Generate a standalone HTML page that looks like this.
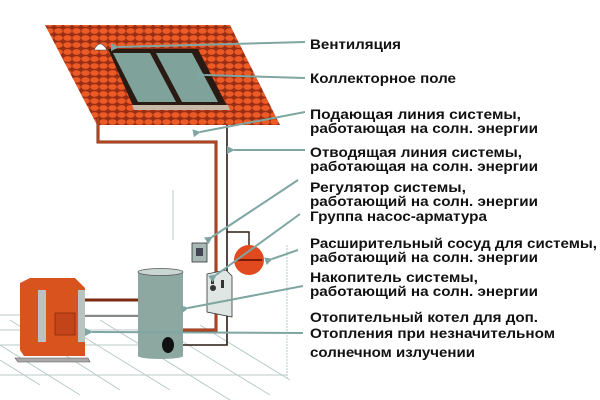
<!DOCTYPE html>
<html><head><meta charset="utf-8"><style>
html,body{margin:0;padding:0;background:#fff;width:600px;height:400px;overflow:hidden}
text{font-family:"Liberation Sans",sans-serif;font-weight:bold;font-size:13.5px;fill:#111}
</style></head><body>
<svg width="600" height="400" viewBox="0 0 600 400" xmlns="http://www.w3.org/2000/svg">
<defs>
<pattern id="tile" width="9" height="7" patternUnits="userSpaceOnUse">
<rect width="9" height="7" fill="#9a2e14"/>
<ellipse cx="4.5" cy="3" rx="4.2" ry="2.9" fill="#ec5a26"/>
</pattern>
<marker id="ah" markerWidth="8" markerHeight="8" refX="1" refY="4" orient="auto-start-reverse" markerUnits="userSpaceOnUse">
<path d="M8,0 L0,4 L8,8 Z" fill="#7fa6a2"/>
</marker>
</defs>
<g stroke="#b9cbc8" stroke-width="1" fill="none">
<line x1="0" y1="315" x2="140" y2="315"/>
<line x1="0" y1="330" x2="140" y2="330"/>
<line x1="0" y1="345" x2="140" y2="345"/>
<line x1="0" y1="375" x2="287" y2="375"/>
<line x1="287" y1="245" x2="287" y2="378" stroke-dasharray="2,1"/>
<line x1="10" y1="320" x2="120" y2="390"/>
<line x1="0" y1="345" x2="80" y2="395"/>
<line x1="40" y1="310" x2="170" y2="390"/>
<line x1="100" y1="320" x2="230" y2="400"/>
<line x1="180" y1="340" x2="270" y2="395"/>
<line x1="200" y1="325" x2="290" y2="380"/>
<line x1="0" y1="360" x2="40" y2="385"/>
<line x1="173" y1="190" x2="173" y2="240"/>
</g>
<polygon points="45,25 230,25 280,125 97,125" fill="url(#tile)"/>
<polygon points="108,49 198,49 228,108 134,108" fill="#2a1a14"/>
<polygon points="113,53 150,53 176,102 138,102" fill="#7fa39a"/>
<polygon points="156,53 192,53 218,102 182,102" fill="#7fa39a"/>
<polygon points="132,105 228,105 230,110 134,110" fill="#c9b7a8"/>
<path d="M94,50 Q100,38 107,50 Z" fill="#fff" stroke="#444" stroke-width="0.6"/>
<polyline points="98,118 98,142 216,142 216,330 183,330" fill="none" stroke="#7a2a10" stroke-width="3"/>
<polyline points="98,118 98,142 216,142 216,330 183,330" fill="none" stroke="#d4532a" stroke-width="1.2"/>
<polyline points="227,125 227,345 183,345" fill="none" stroke="#2a1a14" stroke-width="1.6"/>
<polyline points="227,232 249,232 249,246" fill="none" stroke="#2a1a14" stroke-width="1.4"/>
<line x1="85" y1="300" x2="138" y2="300" stroke="#7a2a10" stroke-width="3"/>
<line x1="85" y1="316" x2="138" y2="316" stroke="#888" stroke-width="2"/>
<circle cx="249" cy="260" r="15" fill="#e04a1e"/>
<line x1="236" y1="260" x2="262" y2="260" stroke="#7a1a08" stroke-width="2"/>
<rect x="192" y="243" width="15" height="19" fill="#a8b8b4" stroke="#333" stroke-width="0.8"/>
<rect x="196" y="248" width="7" height="8" fill="#445"/>
<polygon points="207,274 226,270 232,276 232,317 207,312" fill="#dfe6e3" stroke="#333" stroke-width="0.8"/>
<circle cx="213" cy="288" r="3" fill="#333"/>
<rect x="211" y="278" width="3" height="6" fill="#333"/>
<rect x="221" y="280" width="3" height="8" fill="#333"/>
<rect x="138" y="272" width="45" height="84" fill="#8da7a1"/>
<ellipse cx="160.5" cy="356" rx="22.5" ry="3" fill="#8da7a1"/>
<ellipse cx="160.5" cy="272" rx="22.5" ry="3.5" fill="#c9d6d3" stroke="#555" stroke-width="0.8"/>
<ellipse cx="168" cy="345" rx="6" ry="8" fill="#111"/>
<polygon points="15,358 88,358 90,362 18,362" fill="#aaa" stroke="#555" stroke-width="0.6"/>
<polygon points="20,283 30,278 75,278 85,288 85,356 24,356 20,350" fill="#d9531f"/>
<rect x="38" y="290" width="8" height="52" fill="#b9c4c1"/>
<rect x="78" y="290" width="7" height="52" fill="#b9c4c1"/>
<rect x="55" y="313" width="20" height="22" fill="#c24418" stroke="#8a2a0a" stroke-width="0.8"/>
<g stroke="#7fa6a2" stroke-width="2" fill="none" marker-end="url(#ah)">
<line x1="305" y1="42" x2="118" y2="47"/>
<line x1="305" y1="78" x2="205" y2="75"/>
<line x1="305" y1="112" x2="200" y2="132"/>
<line x1="305" y1="150" x2="234" y2="150"/>
<line x1="298" y1="180" x2="212" y2="237"/>
<line x1="300" y1="214" x2="216" y2="275"/>
<line x1="298" y1="250" x2="272" y2="259"/>
<line x1="303" y1="286" x2="188" y2="308"/>
<line x1="303" y1="333" x2="92" y2="332"/>
</g>
<text x="310" y="49" textLength="91" lengthAdjust="spacingAndGlyphs">Вентиляция</text>
<text x="310" y="83" textLength="146" lengthAdjust="spacingAndGlyphs">Коллекторное поле</text>
<text x="310" y="119" textLength="211" lengthAdjust="spacingAndGlyphs">Подающая линия системы,</text>
<text x="310" y="133" textLength="228" lengthAdjust="spacingAndGlyphs">работающая на солн. энергии</text>
<text x="310" y="157" textLength="212" lengthAdjust="spacingAndGlyphs">Отводящая линия системы,</text>
<text x="310" y="171" textLength="228" lengthAdjust="spacingAndGlyphs">работающая на солн. энергии</text>
<text x="310" y="192" textLength="156" lengthAdjust="spacingAndGlyphs">Регулятор системы,</text>
<text x="310" y="206" textLength="228" lengthAdjust="spacingAndGlyphs">работающий на солн. энергии</text>
<text x="310" y="221" textLength="177" lengthAdjust="spacingAndGlyphs">Группа насос-арматура</text>
<text x="310" y="248" textLength="287" lengthAdjust="spacingAndGlyphs">Расширительный сосуд для системы,</text>
<text x="310" y="262" textLength="228" lengthAdjust="spacingAndGlyphs">работающий на солн. энергии</text>
<text x="310" y="282" textLength="168" lengthAdjust="spacingAndGlyphs">Накопитель системы,</text>
<text x="310" y="296" textLength="228" lengthAdjust="spacingAndGlyphs">работающий на солн. энергии</text>
<text x="310" y="322" textLength="228" lengthAdjust="spacingAndGlyphs">Отопительный котел для доп.</text>
<text x="310" y="338" textLength="245" lengthAdjust="spacingAndGlyphs">Отопления при незначительном</text>
<text x="310" y="357" textLength="165" lengthAdjust="spacingAndGlyphs">солнечном излучении</text>
</svg>
</body></html>
